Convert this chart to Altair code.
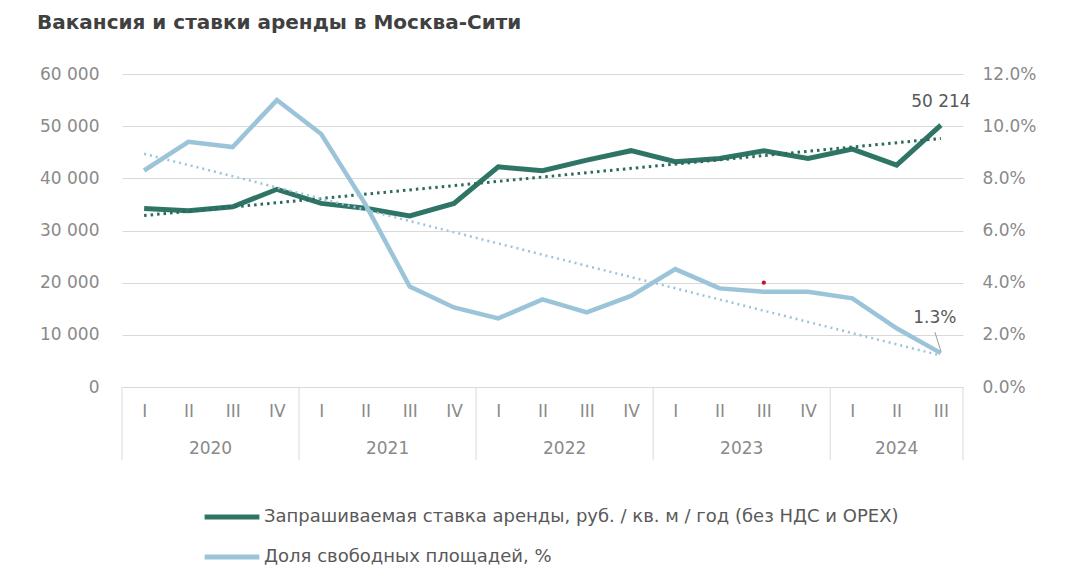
import altair as alt
import pandas as pd

# ---- data ----
quarters = ["I", "II", "III", "IV", "I", "II", "III", "IV", "I", "II", "III", "IV",
            "I", "II", "III", "IV", "I", "II", "III"]
rent = [34200, 33800, 34550, 37900, 35200, 34250, 32800, 35200, 42200, 41450,
        43500, 45300, 43200, 43800, 45300, 43800, 45600, 42550, 50214]
vacancy = [8.3, 9.4, 9.2, 11.0, 9.7, 7.0, 3.85, 3.05, 2.63, 3.36,
           2.86, 3.49, 4.52, 3.78, 3.65, 3.65, 3.40, 2.25, 1.3]
years = ["2020", "2021", "2022", "2023", "2024"]
year_centers = [1.5, 5.5, 9.5, 13.5, 17.0]
year_bounds = [-0.5, 3.5, 7.5, 11.5, 15.5, 18.5]
series_names = ["Запрашиваемая ставка аренды, руб. / кв. м / год (без НДС и OPEX)",
                "Доля свободных площадей, %"]
rent_label = "50 214"
vac_label = "1.3%"
marker_idx = [14]
marker_val = [4.0]

DARK = "#2e7566"
LIGHT = "#9cc4d9"
GRID = "#d9d9d9"
LABEL = "#8a8a8a"
TXT = "#595959"
FONT = "DejaVu Sans"

W, H = 841, 313

idx = list(range(len(rent)))
df_rent = pd.DataFrame({"idx": idx, "val": rent, "series": series_names[0]})
df_vac = pd.DataFrame({"idx": idx, "val": vacancy, "series": series_names[1]})
df_years = pd.DataFrame({"idx": year_centers, "year": years})
df_bounds = pd.DataFrame({"idx": year_bounds})
df_rent_lbl = pd.DataFrame({"idx": [idx[-1]], "val": [rent[-1]], "label": [rent_label]})
df_vac_lbl = pd.DataFrame({"idx": [idx[-1]], "val": [vacancy[-1]], "label": [vac_label]})
df_marker = pd.DataFrame({"idx": marker_idx, "val": marker_val})

qlist = "[" + ",".join("'%s'" % q for q in quarters) + "]"
xscale = alt.Scale(domain=[-0.5, 18.5], nice=False, zero=False)
x_axis = alt.Axis(values=idx, labelExpr=qlist + "[datum.value]",
                  title=None, grid=False, ticks=False, domain=True, domainColor=GRID,
                  labelFontSize=17, labelColor=LABEL, labelFont=FONT, labelPadding=16)
x_enc = alt.X("idx:Q", scale=xscale, axis=x_axis)

color = alt.Color("series:N",
                  scale=alt.Scale(domain=series_names, range=[DARK, LIGHT]),
                  legend=alt.Legend(title=None, orient="none", legendX=80, legendY=413,
                                    direction="vertical", symbolType="stroke",
                                    symbolSize=3000, symbolStrokeWidth=5,
                                    labelFontSize=18, labelFont=FONT,
                                    labelColor=TXT, labelLimit=900, rowPadding=-17,
                                    labelOffset=2))

yl_scale = alt.Scale(domain=[0, 60000], nice=False)
yr_scale = alt.Scale(domain=[0, 12], nice=False)

yl_axis = alt.Axis(values=[0, 10000, 20000, 30000, 40000, 50000, 60000],
                   labelExpr="replace(format(datum.value, ','), ',', ' ')",
                   title=None, ticks=False, domain=False, grid=True,
                   gridColor=GRID, gridWidth=1, labelFontSize=17,
                   labelColor=LABEL, labelFont=FONT, labelPadding=23)
yr_axis = alt.Axis(orient="right", values=[0, 2, 4, 6, 8, 10, 12],
                   labelExpr="format(datum.value, '.1f') + '%'",
                   title=None, ticks=False, domain=False, grid=False,
                   labelFontSize=17, labelColor=LABEL, labelFont=FONT,
                   labelPadding=19)
y_left = alt.Y("val:Q", scale=yl_scale, axis=yl_axis)
y_right = alt.Y("val:Q", scale=yr_scale, axis=yr_axis)

# left-axis layers
rent_line = alt.Chart(df_rent).mark_line(strokeWidth=5).encode(
    x=x_enc, y=y_left, color=color)
rent_trend = alt.Chart(df_rent).transform_regression("idx", "val").mark_line(
    strokeWidth=3, strokeDash=[2.5, 4], color="#2b6a5c").encode(x=x_enc, y=y_left)
rent_text = alt.Chart(df_rent_lbl).mark_text(
    fontSize=17, font=FONT, color=TXT, baseline="bottom", dy=-14).encode(
    x=x_enc, y=y_left, text="label:N")
left = alt.layer(rent_line, rent_trend, rent_text)

# right-axis layers
vac_line = alt.Chart(df_vac).mark_line(strokeWidth=4.5).encode(
    x=x_enc, y=y_right, color=color)
vac_trend = alt.Chart(df_vac).transform_regression("idx", "val").mark_line(
    strokeWidth=2.5, strokeDash=[2, 4], color=LIGHT).encode(x=x_enc, y=y_right)
vac_text = alt.Chart(df_vac_lbl).mark_text(
    fontSize=17, font=FONT, color=TXT, baseline="middle", dy=-35, dx=-6).encode(
    x=x_enc, y=y_right, text="label:N")
vac_leader = alt.Chart(df_vac_lbl).mark_rule(
    color="#9a9a9a", strokeWidth=1, xOffset=-6, yOffset=-21, x2Offset=0, y2Offset=-2).encode(
    x=x_enc, x2="idx:Q", y=y_right, y2="val:Q")
marker = alt.Chart(df_marker).mark_point(filled=True, size=18, color="#c8102e", opacity=1).encode(
    x=x_enc, y=y_right)
right = alt.layer(vac_line, vac_trend, vac_text, vac_leader, marker)

# category axis decorations (year labels and separators)
seps = alt.Chart(df_bounds).mark_rule(color=GRID, strokeWidth=1).encode(
    x=x_enc, y=alt.value(H), y2=alt.value(H + 73))
year_text = alt.Chart(df_years).mark_text(
    fontSize=17, font=FONT, color=LABEL, baseline="middle").encode(
    x=x_enc, y=alt.value(H + 62), text="year:N")

chart = alt.layer(left, right, seps, year_text).resolve_scale(y="independent").properties(
    width=W, height=H,
    autosize=alt.AutoSizeParams(type="none"),
    padding={"left": 114, "top": 66, "right": 95, "bottom": 180},
    title=alt.TitleParams(
        "Вакансия и ставки аренды в Москва-Сити", anchor="start", frame="group",
        dx=-85, fontSize=20, font=FONT, fontWeight="bold", color="#404040",
        baseline="alphabetic", offset=16)
).configure_view(stroke=None)

chart.save("out.html", embed_options={"renderer": "svg", "actions": False})
